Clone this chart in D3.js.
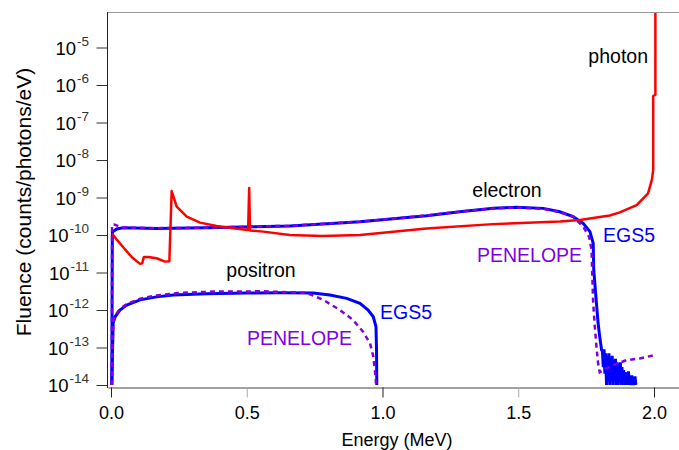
<!DOCTYPE html>
<html>
<head>
<meta charset="utf-8">
<script src="https://cdn.jsdelivr.net/npm/d3@7"></script>
<style>
  body { margin: 0; background: #fff; }
  text { font-family: "Liberation Sans", Arial, sans-serif; }
</style>
</head>
<body>
<div id="chart"></div>
<script>
(function() {
const width = 679,
      height = 450

// energy (MeV), fluence (counts/photons/eV)
const photon = [
  [0.004, 1.1e-10], [0.022, 7.4e-11], [0.045, 4.7e-11], [0.076, 2.6e-11],
  [0.107, 1.7e-11], [0.115, 1.75e-11], [0.121, 2.6e-11], [0.137, 2.6e-11],
  [0.168, 2.4e-11], [0.199, 1.95e-11], [0.215, 2.0e-11], [0.2235, 1.48e-9],
  [0.242, 5.7e-10], [0.279, 3.1e-10], [0.328, 2.14e-10], [0.389, 1.74e-10],
  [0.45, 1.51e-10], [0.505, 1.35e-10], [0.509, 1.8e-9], [0.512, 1.32e-10],
  [0.561, 1.23e-10], [0.659, 1.0e-10], [0.78, 9.4e-11], [0.917, 1.0e-10],
  [1.162, 1.5e-10], [1.406, 1.95e-10], [1.653, 2.3e-10], [1.727, 2.5e-10],
  [1.837, 3.3e-10], [1.874, 4.0e-10], [1.936, 6.3e-10], [1.978, 1.29e-9],
  [1.992, 2.95e-9], [1.997, 5.4e-9], [1.997, 5.1e-7], [2.005, 5.5e-7],
  [2.005, 8.3e-5]
]

const electronEGS5 = [
  [0.003, 1e-14], [0.005, 1.2e-10], [0.021, 1.45e-10], [0.045, 1.55e-10],
  [0.168, 1.5e-10], [0.35, 1.55e-10], [0.659, 1.74e-10], [0.917, 2.24e-10],
  [1.162, 3.24e-10], [1.285, 4.17e-10], [1.408, 5.13e-10], [1.494, 5.5e-10],
  [1.592, 5.13e-10], [1.653, 4.17e-10], [1.702, 3.1e-10], [1.739, 2.04e-10],
  [1.764, 1.23e-10], [1.776, 6.0e-11], [1.778, 1.17e-11], [1.788, 1.5e-12],
  [1.794, 4.5e-13], [1.800, 1.95e-13], [1.807, 8.5e-14],
  [1.810, 8e-14], [1.813, 3e-14], [1.816, 9e-14], [1.819, 2e-14],
  [1.822, 7e-14], [1.825, 1e-14], [1.828, 6e-14], [1.831, 2.5e-14],
  [1.834, 7e-14], [1.837, 1e-14], [1.840, 5e-14], [1.843, 1.5e-14],
  [1.846, 6e-14], [1.849, 1e-14], [1.852, 4.5e-14], [1.855, 2e-14],
  [1.858, 5e-14], [1.861, 1e-14], [1.864, 4e-14], [1.867, 1e-14],
  [1.870, 3.5e-14], [1.873, 1.2e-14], [1.876, 4e-14], [1.879, 1e-14],
  [1.882, 3e-14], [1.885, 1e-14], [1.888, 2.5e-14], [1.891, 1e-14],
  [1.894, 2.2e-14], [1.897, 1e-14], [1.900, 2e-14], [1.903, 1e-14],
  [1.906, 2.3e-14], [1.909, 1e-14], [1.912, 1.6e-14], [1.915, 1e-14],
  [1.918, 1.8e-14], [1.921, 1e-14], [1.924, 1.5e-14], [1.927, 1e-14],
  [1.930, 1.7e-14], [1.933, 1e-14]
]

const electronPENELOPE = [
  [0.003, 1e-14], [0.004, 1.9e-10], [0.012, 1.9e-10], [0.025, 1.75e-10],
  [0.045, 1.58e-10], [0.168, 1.52e-10], [0.35, 1.57e-10], [0.659, 1.76e-10],
  [0.917, 2.26e-10], [1.162, 3.3e-10], [1.285, 4.2e-10], [1.408, 5.1e-10],
  [1.494, 5.4e-10], [1.592, 5.0e-10], [1.653, 4.1e-10], [1.702, 3.1e-10],
  [1.739, 1.66e-10], [1.761, 8.9e-11], [1.770, 4.0e-11], [1.772, 1.17e-11],
  [1.776, 1.5e-12], [1.782, 3.6e-13], [1.788, 1.05e-13], [1.794, 3.8e-14],
  [1.800, 2.2e-14], [1.813, 2.5e-14], [1.850, 3.4e-14], [1.899, 4.6e-14],
  [1.948, 5.1e-14], [2.003, 6.3e-14]
]

const positronEGS5 = [
  [0.003, 1e-14], [0.008, 4.5e-13], [0.015, 6.6e-13], [0.033, 1.0e-12],
  [0.058, 1.35e-12], [0.107, 1.86e-12], [0.168, 2.24e-12], [0.229, 2.5e-12],
  [0.352, 2.7e-12], [0.5, 2.82e-12], [0.622, 2.88e-12], [0.745, 2.82e-12],
  [0.806, 2.5e-12], [0.868, 2.04e-12], [0.917, 1.5e-12], [0.947, 1.0e-12],
  [0.966, 6.6e-13], [0.976, 3.6e-13], [0.978, 8.5e-14], [0.979, 1e-14]
]

const positronPENELOPE = [
  [0.003, 1e-14], [0.008, 4.9e-13], [0.015, 7e-13], [0.033, 1.07e-12],
  [0.058, 1.45e-12], [0.107, 2.0e-12], [0.168, 2.45e-12], [0.254, 2.85e-12],
  [0.377, 3.1e-12], [0.561, 3.15e-12], [0.721, 2.85e-12], [0.782, 1.86e-12],
  [0.843, 1.0e-12], [0.892, 5.4e-13], [0.929, 2.6e-13], [0.954, 1.29e-13],
  [0.966, 5.75e-14], [0.972, 2.5e-14], [0.976, 1.1e-14]
]

const energyTicks = [0, 0.5, 1.0, 1.5, 2.0]
const decadeExponents = [-14, -13, -12, -11, -10, -9, -8, -7, -6, -5]

const blue = '#0000ff',
      purple = '#8000e0',
      red = '#ff0000'

const svg = d3.select('#chart')
  .append('svg')
  .attr('width', width)
  .attr('height', height)

const x = d3.scaleLinear()
  .domain([-0.011, 2.092])
  .range([108, 679])

const y = d3.scaleLog()
  .domain([1e-14, 1e-4])
  .range([385, 10])

const line = d3.line()
  .x(function(d) { return x(d[0]) })
  .y(function(d) { return y(Math.max(d[1], 1e-14)) })

// frame
svg.append('line')
  .attr('x1', 108).attr('x2', 679)
  .attr('y1', 12.5).attr('y2', 12.5)
  .attr('stroke', '#999')
svg.append('line')
  .attr('x1', 107.5).attr('x2', 107.5)
  .attr('y1', 12).attr('y2', 388)
  .attr('stroke', '#222')

// x axis
const xAxis = svg.append('g')
  .attr('transform', 'translate(0,387.5)')
  .call(d3.axisBottom(x)
    .tickValues(energyTicks)
    .tickFormat(d3.format('.1f'))
    .tickSize(10)
    .tickSizeOuter(0)
    .tickPadding(9))
xAxis.select('.domain').attr('stroke', '#444')
xAxis.selectAll('.tick line')
  .attr('stroke', function(d) { return d % 1 === 0 ? '#222' : '#aaa' })
xAxis.selectAll('.tick text')
  .attr('fill', '#000')
  .style('font-size', '18px')
  .style('font-family', '"Liberation Sans", Arial, sans-serif')

// y axis
const yAxis = svg.append('g')
  .attr('transform', 'translate(107.5,0)')
  .call(d3.axisLeft(y)
    .tickValues(decadeExponents.map(function(e) { return Math.pow(10, e) }))
    .tickFormat('')
    .tickSize(11)
    .tickSizeOuter(0))
yAxis.select('.domain').remove()
yAxis.selectAll('.tick line').attr('stroke', '#333')

decadeExponents.forEach(function(e) {
  const t = svg.append('text')
    .attr('x', 89)
    .attr('y', y(Math.pow(10, e)) + 7)
    .attr('text-anchor', 'end')
    .style('font-size', '18.5px')
  t.append('tspan').text('10')
  t.append('tspan')
    .attr('dx', 1)
    .attr('dy', -9)
    .attr('fill', '#333')
    .style('font-size', '13.5px')
    .text(String(e))
})

// axis titles
svg.append('text')
  .attr('x', 397)
  .attr('y', 446)
  .attr('text-anchor', 'middle')
  .style('font-size', '18px')
  .text('Energy (MeV)')

svg.append('text')
  .attr('transform', 'translate(31,202) rotate(-90)')
  .attr('text-anchor', 'middle')
  .style('font-size', '21px')
  .text('Fluence (counts/photons/eV)')

// curves
const plot = svg.append('g')

plot.append('path').datum(positronEGS5)
  .attr('d', line).attr('fill', 'none')
  .attr('stroke', blue).attr('stroke-width', 3)
plot.append('path').datum(electronEGS5)
  .attr('d', line).attr('fill', 'none')
  .attr('stroke', blue).attr('stroke-width', 3)
plot.append('path').datum(positronPENELOPE)
  .attr('d', line).attr('fill', 'none')
  .attr('stroke', purple).attr('stroke-width', 2.5)
  .attr('stroke-dasharray', '5,4')
plot.append('path').datum(electronPENELOPE)
  .attr('d', line).attr('fill', 'none')
  .attr('stroke', purple).attr('stroke-width', 2.5)
  .attr('stroke-dasharray', '5,4')
plot.append('path').datum(photon)
  .attr('d', line).attr('fill', 'none')
  .attr('stroke', red).attr('stroke-width', 2.5)
  .attr('stroke-linejoin', 'round')

// annotations
function note(px, py, str, color, anchor) {
  svg.append('text')
    .attr('x', px).attr('y', py)
    .attr('text-anchor', anchor || 'start')
    .attr('fill', color)
    .style('font-size', '19.5px')
    .text(str)
}
note(648, 63, 'photon', '#000', 'end')
note(507, 197, 'electron', '#000', 'middle')
note(261, 277, 'positron', '#000', 'middle')
note(603, 242, 'EGS5', blue)
note(477, 262, 'PENELOPE', purple)
note(380, 318.5, 'EGS5', blue)
note(247, 344.5, 'PENELOPE', purple)

})()
</script>
</body>
</html>
